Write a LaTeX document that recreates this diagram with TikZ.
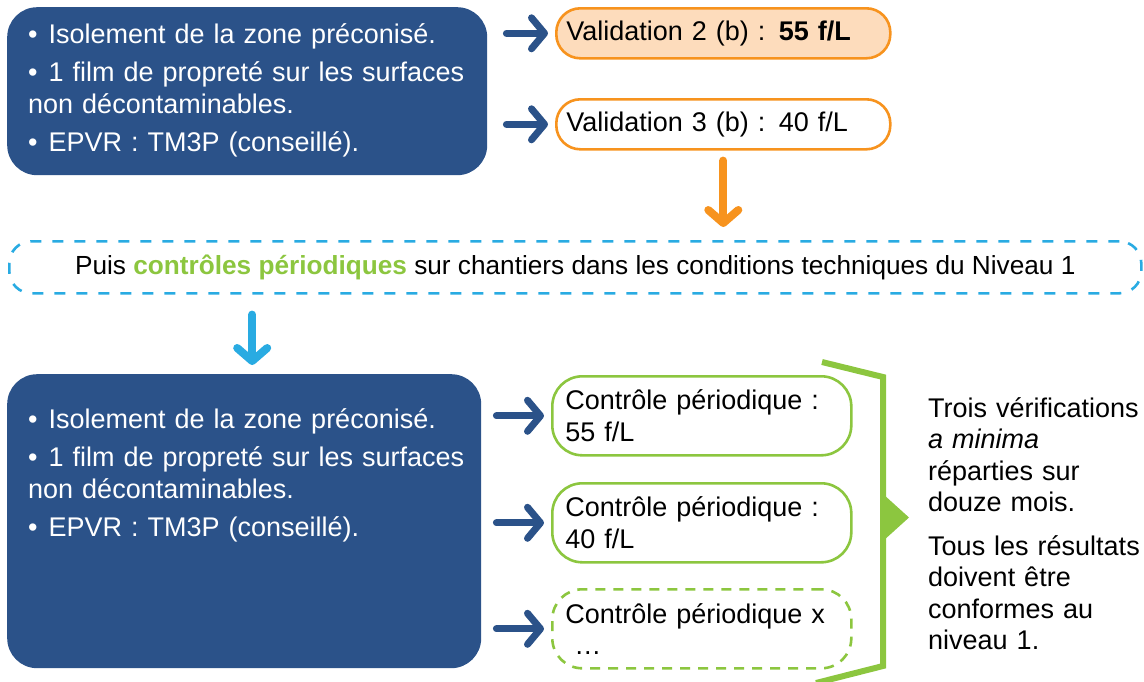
\documentclass[tikz,border=0pt]{standalone}
\usepackage{fontspec}
\setmainfont{Liberation Sans}
\usetikzlibrary{arrows.meta}
\definecolor{navy}{HTML}{2B5289}
\definecolor{tangerine}{HTML}{F7931E}
\definecolor{peach}{HTML}{FDDCBC}
\definecolor{sky}{HTML}{29ABE2}
\definecolor{leaf}{HTML}{8CC63F}
\newcommand{\bul}{•\hspace{11pt}}
\tikzset{
  darkbox/.style={fill=navy, draw=none, rounded corners=30pt, anchor=north west, inner sep=0pt},
  bodytext/.style={text=white, align=left, inner sep=0pt, text width=455pt, anchor=base west},
  valbox/.style={draw=tangerine, line width=2.6pt, rounded corners=24pt, anchor=north west,
    minimum width=334pt, minimum height=50pt, text width=314pt, inner xsep=10pt, inner ysep=0pt, align=left},
  ctrlbox/.style={draw=leaf, line width=2.6pt, rounded corners=30pt, anchor=north west,
    minimum width=299pt, minimum height=79pt, text width=273pt, inner xsep=13pt, inner ysep=0pt, align=left},
  navyarrow/.style={draw=navy, line width=7pt, line cap=round,
    -{Straight Barb[length=13pt, width=31pt, round]}},
  bigarrow/.style={line width=8pt, line cap=round,
    -{Straight Barb[length=13pt, width=30pt, round]}},
}
\begin{document}
\begin{tikzpicture}[x=1pt, y=-1pt, font=\fontsize{27}{31.5}\selectfont]
\useasboundingbox (0,0) rectangle (1144,681);

% first stage: conditions and validations
\node[darkbox, minimum width=480pt, minimum height=168pt] (cond1) at (7,7) {};
\node[bodytext] (cond1txt) at (28,43) {%
  \bul Isolement de la zone préconisé.\\[7pt]
  \bul 1 film de propreté sur les surfaces\\
  non décontaminables.\\[7pt]
  \bul EPVR : TM3P (conseillé).};

\node[valbox, fill=peach] (v2) at (555,7) {Validation 2 (b) : \textbf{55 f/L}};
\node[valbox, fill=white] (v3) at (555,98) {Validation 3 (b) : 40 f/L};

\draw[navyarrow, shorten <=19pt, shorten >=7pt] (cond1.east |- v2.west) -- (v2.west);
\draw[navyarrow, shorten <=19pt, shorten >=7pt] (cond1.east |- v3.west) -- (v3.west);

% periodic checks banner
\node[draw=sky, line width=2.6pt, dash pattern=on 11pt off 11pt, rounded corners=22pt,
  anchor=north west, minimum width=1132pt, minimum height=52pt, inner sep=0pt,
  font=\fontsize{26.2}{31.5}\selectfont] (banner) at (8,240)
  {Puis \textcolor{leaf}{\textbf{contrôles périodiques}} sur chantiers dans les conditions techniques du Niveau 1};

\draw[bigarrow, draw=tangerine, shorten <=10pt, shorten >=13pt] (v3.south) -- (v3.south |- banner.north);

% second stage: conditions and periodic checks
\node[darkbox, minimum width=474pt, minimum height=294pt] (cond2) at (7,374) {};
\node[bodytext] (cond2txt) at (28,428) {%
  \bul Isolement de la zone préconisé.\\[7pt]
  \bul 1 film de propreté sur les surfaces\\
  non décontaminables.\\[7pt]
  \bul EPVR : TM3P (conseillé).};

\draw[bigarrow, draw=sky, shorten <=20pt, shorten >=9pt]
  ([xshift=8pt]cond2.north |- banner.south) -- ([xshift=8pt]cond2.north);

\node[ctrlbox] (c1) at (551,375) {Contrôle périodique :\\55 f/L};
\node[ctrlbox] (c2) at (551,482) {Contrôle périodique :\\40 f/L};
\node[ctrlbox, dash pattern=on 10pt off 8pt] (c3) at (551,588) {Contrôle périodique x\\\hspace*{9pt}…};

\draw[navyarrow, shorten <=15pt, shorten >=7pt] (cond2.east |- c1.west) -- (c1.west);
\draw[navyarrow, shorten <=15pt, shorten >=7pt] (cond2.east |- c2.west) -- (c2.west);
\draw[navyarrow, shorten <=15pt, shorten >=7pt] (cond2.east |- c3.west) -- (c3.west);

% bracket grouping the periodic checks
\coordinate (brtop) at (822,362);
\coordinate (brbot) at (816,683);
\draw[leaf, line width=6pt, line join=miter] (brtop) -- (883,377) -- (883,666) -- (brbot);
\fill[leaf] (883,494) -- (909,517.5) -- (883,541) -- cycle;

\node[anchor=base west, align=left, inner sep=0pt, text width=215pt] (note) at (928,417) {%
  Trois vérifications\\
  \textit{a minima}\\
  réparties sur\\
  douze mois.\\[12pt]
  Tous les résultats\\
  doivent être\\
  conformes au\\
  niveau 1.};
\end{tikzpicture}
\end{document}
